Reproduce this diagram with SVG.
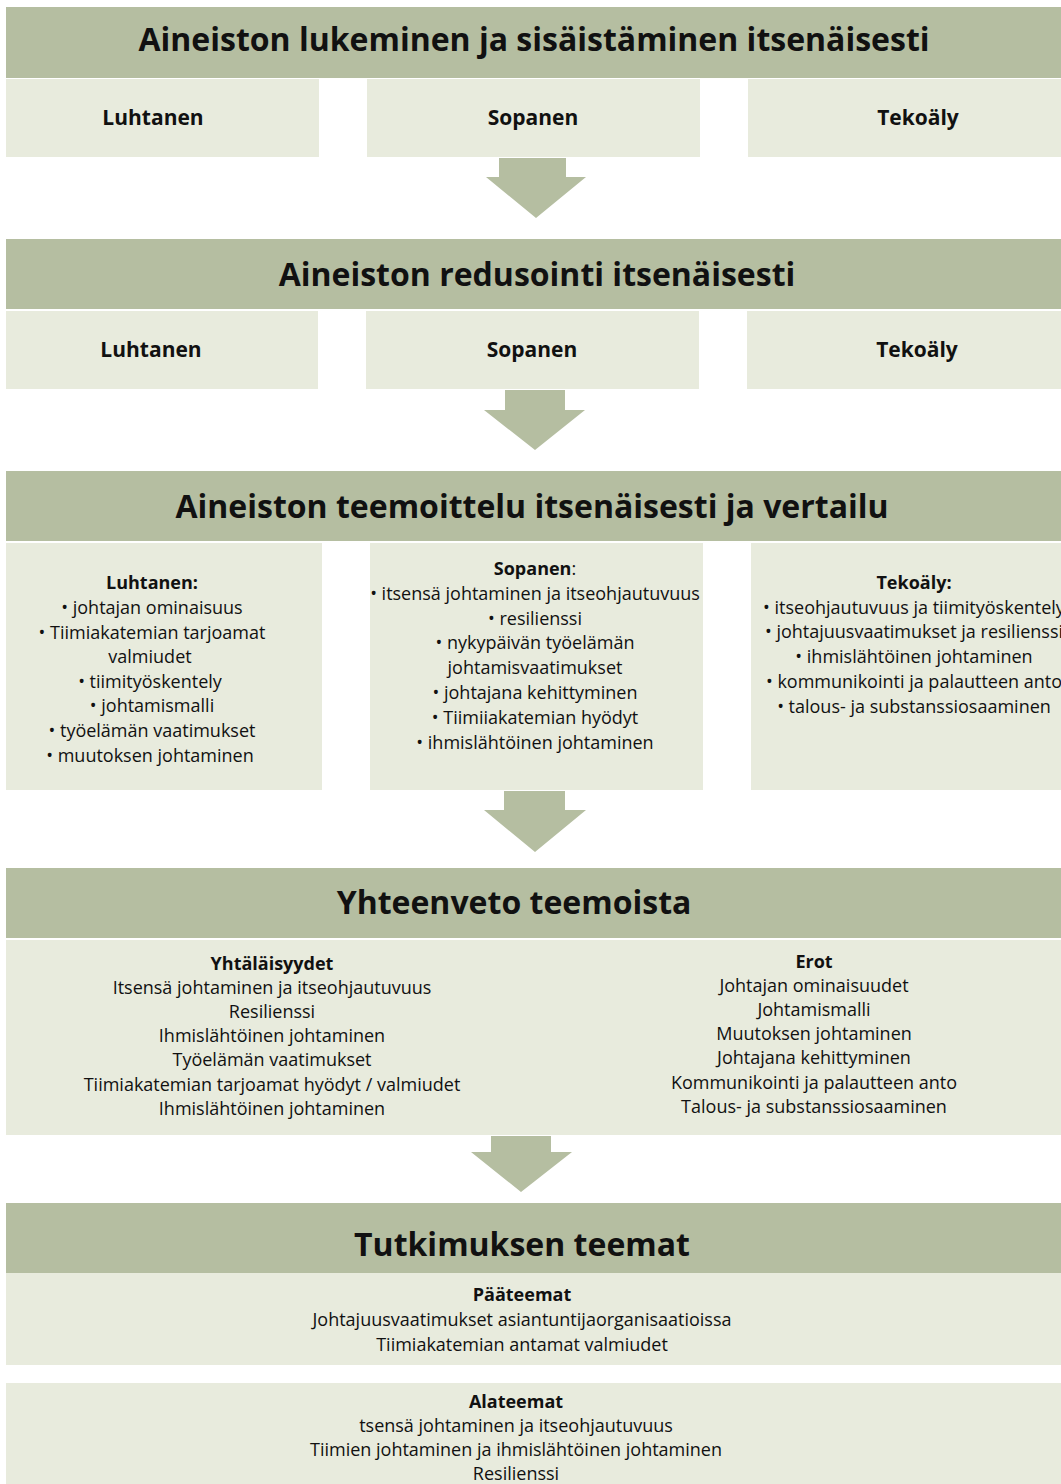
<svg xmlns="http://www.w3.org/2000/svg" width="1061" height="1484" viewBox="0 0 1061 1484">
<style>
.hd{fill:#b5bea1}
.bx{fill:#e8ebdd}
.ar{fill:#b5bea1}
text{font-family:"Open Sans","Noto Sans","DejaVu Sans",sans-serif;fill:#111;text-anchor:middle}
.t{font-size:32px;font-weight:700}
.s{font-size:21px;font-weight:700}
.b{font-size:18px}
.bb{font-size:18px;font-weight:700}
</style>
<rect width="1061" height="1484" fill="#fff"/>
<g id="sec1">
<rect class="hd" x="6" y="7" width="1055" height="71"/>
<text class="t" x="534" y="51">Aineiston lukeminen ja sisäistäminen itsenäisesti</text>
</g>
<g id="s1-luhtanen"><rect class="bx" x="6" y="79" width="313" height="78"/><text class="s" x="153" y="125">Luhtanen</text></g>
<g id="s1-sopanen"><rect class="bx" x="367" y="79" width="333" height="78"/><text class="s" x="533" y="125">Sopanen</text></g>
<g id="s1-tekoaly"><rect class="bx" x="748" y="79" width="313" height="78"/><text class="s" x="918" y="125">Tekoäly</text></g>

<g id="sec2">
<rect class="hd" x="6" y="239" width="1055" height="70"/>
<text class="t" x="537" y="286">Aineiston redusointi itsenäisesti</text>
</g>
<g id="s2-luhtanen"><rect class="bx" x="6" y="311" width="312" height="78"/><text class="s" x="151" y="357">Luhtanen</text></g>
<g id="s2-sopanen"><rect class="bx" x="366" y="311" width="333" height="78"/><text class="s" x="532" y="357">Sopanen</text></g>
<g id="s2-tekoaly"><rect class="bx" x="747" y="311" width="314" height="78"/><text class="s" x="917" y="357">Tekoäly</text></g>

<g id="sec3">
<rect class="hd" x="6" y="471" width="1055" height="70"/>
<text class="t" x="532" y="518">Aineiston teemoittelu itsenäisesti ja vertailu</text>
</g>
<g id="s3-luhtanen"><rect class="bx" x="6" y="543" width="316" height="247"/>
<text class="bb" x="152" y="589">Luhtanen:</text>
<text class="b" x="152" y="614">• johtajan ominaisuus</text>
<text class="b" x="152" y="639">• Tiimiakatemian tarjoamat</text>
<text class="b" x="150" y="663">valmiudet</text>
<text class="b" x="150" y="688">• tiimityöskentely</text>
<text class="b" x="152" y="712">• johtamismalli</text>
<text class="b" x="152" y="737">• työelämän vaatimukset</text>
<text class="b" x="150" y="762">• muutoksen johtaminen</text>
</g>
<g id="s3-sopanen"><rect class="bx" x="370" y="543" width="333" height="247"/>
<text class="bb" x="535" y="575">Sopanen<tspan font-weight="400">:</tspan></text>
<text class="b" x="535" y="600">• itsensä johtaminen ja itseohjautuvuus</text>
<text class="b" x="535" y="625">• resilienssi</text>
<text class="b" x="535" y="649">• nykypäivän työelämän</text>
<text class="b" x="535" y="674">johtamisvaatimukset</text>
<text class="b" x="535" y="699">• johtajana kehittyminen</text>
<text class="b" x="535" y="724">• Tiimiiakatemian hyödyt</text>
<text class="b" x="535" y="749">• ihmislähtöinen johtaminen</text>
</g>
<g id="s3-tekoaly"><rect class="bx" x="751" y="543" width="310" height="247"/>
<text class="bb" x="914" y="589">Tekoäly:</text>
<text class="b" x="914" y="614">• itseohjautuvuus ja tiimityöskentely</text>
<text class="b" x="914" y="638">• johtajuusvaatimukset ja resilienssi</text>
<text class="b" x="914" y="663">• ihmislähtöinen johtaminen</text>
<text class="b" x="914" y="688">• kommunikointi ja palautteen anto</text>
<text class="b" x="914" y="713">• talous- ja substanssiosaaminen</text>
</g>

<g id="sec4">
<rect class="hd" x="6" y="868" width="1055" height="70"/>
<text class="t" x="514" y="914">Yhteenveto teemoista</text>
</g>
<g id="s4-body"><rect class="bx" x="6" y="940" width="1055" height="195"/>
<text class="bb" x="272" y="970">Yhtäläisyydet</text>
<text class="b" x="272" y="994">Itsensä johtaminen ja itseohjautuvuus</text>
<text class="b" x="272" y="1018">Resilienssi</text>
<text class="b" x="272" y="1042">Ihmislähtöinen johtaminen</text>
<text class="b" x="272" y="1066">Työelämän vaatimukset</text>
<text class="b" x="272" y="1091">Tiimiakatemian tarjoamat hyödyt / valmiudet</text>
<text class="b" x="272" y="1115">Ihmislähtöinen johtaminen</text>
<text class="bb" x="814" y="968">Erot</text>
<text class="b" x="814" y="992">Johtajan ominaisuudet</text>
<text class="b" x="814" y="1016">Johtamismalli</text>
<text class="b" x="814" y="1040">Muutoksen johtaminen</text>
<text class="b" x="814" y="1064">Johtajana kehittyminen</text>
<text class="b" x="814" y="1089">Kommunikointi ja palautteen anto</text>
<text class="b" x="814" y="1113">Talous- ja substanssiosaaminen</text>
</g>

<g id="sec5">
<rect class="hd" x="6" y="1203" width="1055" height="70"/>
<text class="t" x="522" y="1256">Tutkimuksen teemat</text>
</g>
<g id="s5-paateemat"><rect class="bx" x="6" y="1273" width="1055" height="92"/>
<text class="bb" x="522" y="1301">Pääteemat</text>
<text class="b" x="522" y="1326">Johtajuusvaatimukset asiantuntijaorganisaatioissa</text>
<text class="b" x="522" y="1351">Tiimiakatemian antamat valmiudet</text>
</g>
<g id="s5-alateemat"><rect class="bx" x="6" y="1383" width="1055" height="101"/>
<text class="bb" x="516" y="1408">Alateemat</text>
<text class="b" x="516" y="1432">tsensä johtaminen ja itseohjautuvuus</text>
<text class="b" x="516" y="1456">Tiimien johtaminen ja ihmislähtöinen johtaminen</text>
<text class="b" x="516" y="1480">Resilienssi</text>
</g>

<g id="connectors">
<polygon class="ar" points="499,158 566,158 566,177 586,177 536,218 486,177 499,177"/>
<polygon class="ar" points="505,390 565,390 565,410 585,410 535,450 484,410 505,410"/>
<polygon class="ar" points="504,791 565,791 565,810 586,810 535,852 484,810 504,810"/>
<polygon class="ar" points="491,1136 551,1136 551,1152 572,1152 521,1192 471,1152 491,1152"/>
</g>
</svg>
